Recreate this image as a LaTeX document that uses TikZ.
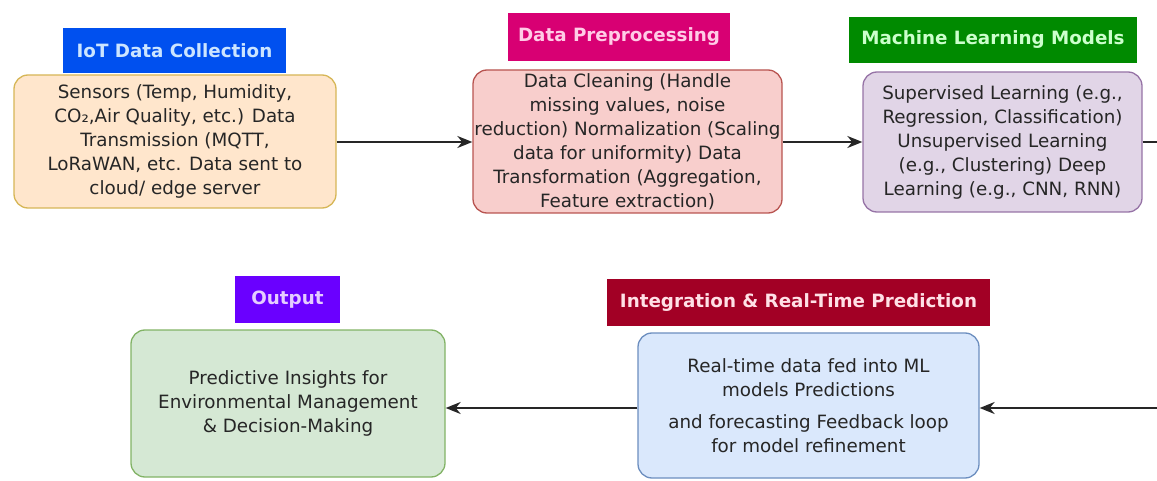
\documentclass[tikz,border=0pt]{standalone}
\usepackage{fontspec}
\setmainfont{DejaVu Sans}
\usetikzlibrary{arrows.meta}

\definecolor{iotblue}{HTML}{0050EF}
\definecolor{iottext}{HTML}{CCE5FF}
\definecolor{iotfill}{HTML}{FFE6CC}
\definecolor{iotline}{HTML}{D6B656}
\definecolor{prepmag}{HTML}{D80073}
\definecolor{preptext}{HTML}{FFCCE6}
\definecolor{prepfill}{HTML}{F8CECC}
\definecolor{prepline}{HTML}{B85450}
\definecolor{mlgreen}{HTML}{008A00}
\definecolor{mltext}{HTML}{CCFFCC}
\definecolor{mlfill}{HTML}{E1D5E7}
\definecolor{mlline}{HTML}{9673A6}
\definecolor{outviolet}{HTML}{6A00FF}
\definecolor{outtext}{HTML}{E5CCFF}
\definecolor{outfill}{HTML}{D5E8D4}
\definecolor{outline}{HTML}{82B366}
\definecolor{intred}{HTML}{A20025}
\definecolor{inttext}{HTML}{FFE0E6}
\definecolor{intfill}{HTML}{DAE8FC}
\definecolor{intline}{HTML}{6C8EBF}

\begin{document}
\begin{tikzpicture}[x=1pt, y=-1pt,
	head/.style={inner sep=0pt, font=\fontsize{18.3}{20}\selectfont\bfseries},
	body/.style={draw, rounded corners=14pt, line width=1.3pt, align=center, inner sep=0pt, text=black!85, font=\fontsize{18.3}{24}\selectfont},
	flow/.style={line width=2.2pt, color=black!85, -{Stealth[length=15pt,width=12pt]}}]
	%%%%% START %%%%%
	\useasboundingbox (0,0) rectangle (1157,481);
	
	% top row
	\node[head, fill=iotblue, text=iottext, minimum width=223pt, minimum height=45pt] (iothead) at (174.5,50.5) {IoT Data Collection};
	\node[body, fill=iotfill, draw=iotline, minimum width=322pt, minimum height=133pt] (iot) at (175,141.5) {Sensors (Temp, Humidity,\\CO₂,Air Quality, etc.) Data\\Transmission (MQTT,\\LoRaWAN, etc. Data sent to\\cloud/ edge server};
	
	\node[head, fill=prepmag, text=preptext, minimum width=222pt, minimum height=48pt] (prephead) at (619,37) {Data Preprocessing};
	\node[body, fill=prepfill, draw=prepline, minimum width=309pt, minimum height=143pt] (prep) at (627.5,141.5) {Data Cleaning (Handle\\missing values, noise\\reduction) Normalization (Scaling\\data for uniformity) Data\\Transformation (Aggregation,\\Feature extraction)};
	
	\node[head, fill=mlgreen, text=mltext, minimum width=288pt, minimum height=46pt] (mlhead) at (993,40) {Machine Learning Models};
	\node[body, fill=mlfill, draw=mlline, minimum width=279pt, minimum height=140pt] (ml) at (1002.5,142) {Supervised Learning (e.g.,\\Regression, Classification)\\Unsupervised Learning\\(e.g., Clustering) Deep\\Learning (e.g., CNN, RNN)};
	
	% bottom row
	\node[head, fill=outviolet, text=outtext, minimum width=105pt, minimum height=47pt] (outhead) at (287.5,299.5) {Output};
	\node[body, fill=outfill, draw=outline, minimum width=314pt, minimum height=147pt] (out) at (288,403.5) {Predictive Insights for\\Environmental Management\\\& Decision-Making};
	
	\node[head, fill=intred, text=inttext, minimum width=383pt, minimum height=47pt] (inthead) at (798.5,302.5) {Integration \& Real-Time Prediction};
	\node[body, fill=intfill, draw=intline, minimum width=341pt, minimum height=145pt] (int) at (808.5,405.5) {Real-time data fed into ML\\models Predictions\\[8pt]and forecasting Feedback loop\\for model refinement};
	
	% connectors
	\coordinate (mlout) at (1157,142);
	\coordinate (intin) at (1157,408);
	\draw[flow] (iot.east |- mlout) -- (prep.west |- mlout);
	\draw[flow] (prep.east |- mlout) -- (ml.west |- mlout);
	\draw[line width=2.2pt, color=black!85] (ml.east |- mlout) -- (mlout);
	\draw[flow] (intin) -- (int.east |- intin);
	\draw[flow] (int.west |- intin) -- (out.east |- intin);
	
	%%%%% END %%%%%
\end{tikzpicture}
\end{document}
